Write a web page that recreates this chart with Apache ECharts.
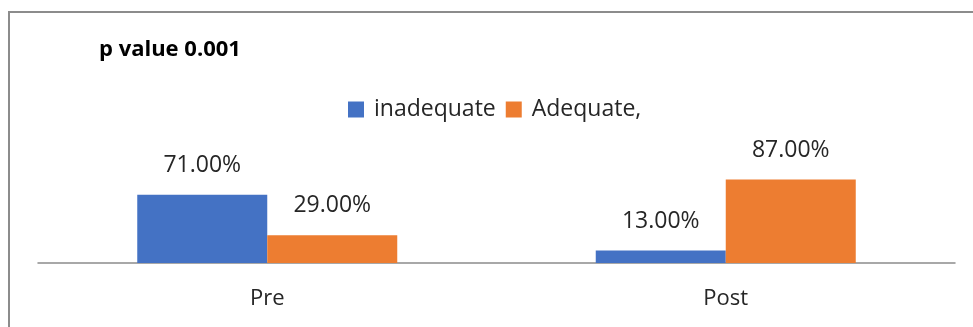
<!DOCTYPE html>
<html>
<head>
<meta charset="utf-8">
<script src="https://cdn.jsdelivr.net/npm/echarts@6/dist/echarts.min.js"></script>
<style>html,body{margin:0;padding:0;background:#fff}#c{width:973px;height:327px}</style>
</head>
<body>
<div id="c"></div>
<script>
const categories = ['Pre', 'Post'];
const inadequate = [71, 13];
const adequate = [29, 87];
const seriesNames = ['inadequate', 'Adequate,'];
const titleText = 'p value 0.001';

const FONT = 'Open Sans';
const chart = echarts.init(document.getElementById('c'), null, {renderer: 'canvas'});
const labelCfg = {
  show: true, position: 'top', distance: 18,
  formatter: p => p.value.toFixed(2) + '%',
  fontFamily: FONT, fontSize: 23, color: '#262626'
};
chart.setOption({
  animation: false,
  title: {
    text: titleText, left: 94, top: 34,
    textStyle: {fontFamily: FONT, fontSize: 22, fontWeight: 'bold', color: '#000'}
  },
  legend: {
    data: seriesNames, left: 343, top: 93, itemWidth: 16, itemHeight: 16, itemGap: 10,
    icon: 'rect',
    textStyle: {fontFamily: FONT, fontSize: 23, color: '#262626', padding: [0, 0, 0, 5]}
  },
  grid: {left: 38, right: 18, top: 167, bottom: 64},
  xAxis: {
    type: 'category', data: categories,
    axisLine: {lineStyle: {color: '#8c8c8c', width: 1.5}},
    axisTick: {show: false},
    axisLabel: {fontFamily: FONT, fontSize: 22, color: '#262626', margin: 25}
  },
  yAxis: {type: 'value', min: 0, max: 100, show: false, splitLine: {show: false}},
  series: [
    {name: seriesNames[0], type: 'bar', data: inadequate, barWidth: 130, barGap: '0%',
     itemStyle: {color: '#4472c4'}, label: labelCfg},
    {name: seriesNames[1], type: 'bar', data: adequate, barWidth: 130,
     itemStyle: {color: '#ed7d31'}, label: labelCfg}
  ],
  graphic: [{
    type: 'rect', shape: {x: 9, y: 12, width: 1000, height: 400},
    style: {fill: 'none', stroke: '#8c8c8c', lineWidth: 2}, silent: true, z: -1
  }]
});
</script>
</body>
</html>
